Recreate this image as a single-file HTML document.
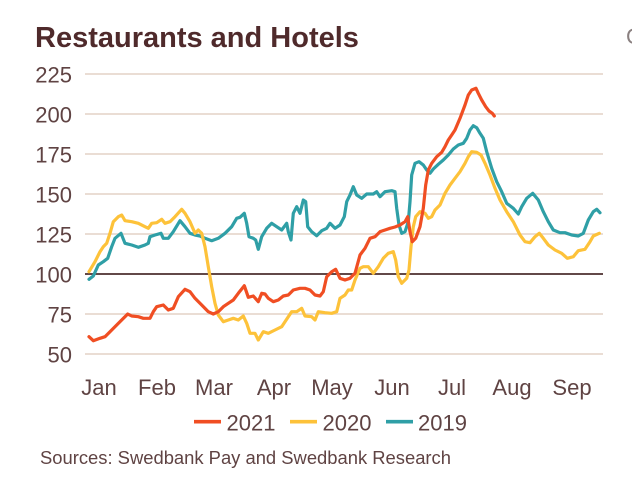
<!DOCTYPE html>
<html>
<head>
<meta charset="utf-8">
<style>
html,body{margin:0;padding:0;background:#ffffff;}
body{width:632px;height:482px;overflow:hidden;}
svg{display:block;}
text{font-family:"Liberation Sans",Arial,sans-serif;}
</style>
</head>
<body>
<svg width="632" height="482" viewBox="0 0 632 482" xmlns="http://www.w3.org/2000/svg">
  <rect x="0" y="0" width="632" height="482" fill="#ffffff"/>
  <!-- title -->
  <text x="35" y="47" font-size="29" font-weight="bold" fill="#4f2a2b">Restaurants and Hotels</text>
  <text x="626" y="44" font-size="22" fill="#8a8080">C</text>

  <!-- gridlines -->
  <g stroke="#e3d2c6" stroke-width="1.6">
    <line x1="85" y1="74" x2="603" y2="74"/>
    <line x1="85" y1="114" x2="603" y2="114"/>
    <line x1="85" y1="154" x2="603" y2="154"/>
    <line x1="85" y1="194" x2="603" y2="194"/>
    <line x1="85" y1="234" x2="603" y2="234"/>
    <line x1="85" y1="314" x2="603" y2="314"/>
    <line x1="85" y1="354" x2="603" y2="354"/>
  </g>
  <line x1="85" y1="274" x2="603" y2="274" stroke="#4b2e2e" stroke-width="1.8"/>

  <!-- y labels -->
  <g font-size="22" fill="#5f4343" text-anchor="end">
    <text x="72" y="82.5">225</text>
    <text x="72" y="122.5">200</text>
    <text x="72" y="162.5">175</text>
    <text x="72" y="202.5">150</text>
    <text x="72" y="242.5">125</text>
    <text x="72" y="282.5">100</text>
    <text x="72" y="322.5">75</text>
    <text x="72" y="362.5">50</text>
  </g>

  <!-- x labels -->
  <g font-size="22" fill="#5f4343" text-anchor="middle">
    <text x="99" y="395">Jan</text>
    <text x="157" y="395">Feb</text>
    <text x="214" y="395">Mar</text>
    <text x="274" y="395">Apr</text>
    <text x="332" y="395">May</text>
    <text x="392" y="395">Jun</text>
    <text x="452" y="395">Jul</text>
    <text x="512" y="395">Aug</text>
    <text x="572" y="395">Sep</text>
  </g>

  <g fill="none" stroke-width="3.2" stroke-linejoin="round" stroke-linecap="round">
    <!-- 2019 teal -->
    <polyline stroke="#2f9fa6" points="89,279.3 93.3,276 98.3,265 103.3,261.7 107.7,258.3 111.7,246.7 115,238.3 121,233.3 125,243.3 131.7,245 138.3,247.3 145,245 148.3,243.3 150,236.7 155,235 161,233.3 163.3,238.3 168.3,238.3 173.3,231.7 180,220.7 185,226.7 190,233.3 195,235 200,236 205,238.3 211.7,240.7 218.3,238.3 225,233.3 231.7,226.7 236.7,218.3 240,217.3 244.3,213.3 246.7,223.3 249,236.7 253.3,238.3 255.7,240 258.3,249.3 261.7,236.7 266.7,228.3 271.7,223.3 276.7,226.7 281.7,230 286.7,223.3 288.3,231.7 291,240 293.3,213.3 296.7,206.7 300,213.3 303.3,200 305.7,201.7 307.7,226.7 311.7,231.7 316.7,235.7 321.7,230.7 326.7,228.3 330,223.3 335,228.3 340,225 344.3,216.7 346.7,201.7 350,195 353.3,186.7 356.7,195 361.7,198.3 366.7,194 373.3,194 376.7,191.7 380,196.7 385,191.7 391.7,190.7 395,191.7 396.7,208.3 399,225 401.7,233.3 405,231.7 408.3,221.7 410,201.7 411.7,175 415,163.3 419,161.7 423.3,165 426.7,170 430,173.3 433.3,169 438.3,164.3 443.3,160 448.3,155 453.3,149 458.3,145 463.3,143.3 466.7,138.3 470,130 473.3,125.7 476.7,127.7 480,133.3 483.3,138.3 486.7,151.7 491.7,168.3 496.7,181.7 501.7,191.7 506.7,203.3 513.3,208.3 518.3,214 521.7,206.7 526.7,198.3 532.7,193.3 538.3,200 543.3,211.7 548.3,221.7 553.3,230 560,232.7 565,232.7 571.7,235 578.3,236 583.3,233.3 588.3,220 593.3,211.7 596.7,209.3 600,212.7"/>
    <!-- 2020 yellow -->
    <polyline stroke="#fdc23a" points="89,271.7 95,261.7 100,251.7 103.3,246.7 106.7,243.3 110,233.3 113.3,221.7 118.3,216.7 121.7,215 125,220.7 131.7,221.7 138.3,223.3 145,226.7 148.3,228.3 151.7,223.3 156.7,222.7 161.7,219.3 165,223.3 170,221.7 175,216.7 181.7,209.3 185,213.3 190,221.7 195,233.3 198.3,230 201.7,233.3 205,246.7 208.3,266.7 211.7,286.7 215,303.3 218.3,315 223.3,321.7 228.3,320 233.3,318.3 238.3,320 243.3,316 246.7,323.3 250,333.3 255,333.3 258.3,340 263.3,331.7 268.3,333.3 275,330 281.7,326.7 288.3,316.7 291.7,311.7 296.7,311.7 301.7,308.3 305,316 311.7,316.7 315,320 318.3,311.7 325,312.7 331.7,313.3 336.7,311.7 340,298.3 345,295 348.3,290 351.7,290 355,280 360,268.3 363.3,266.7 368.3,266.7 373.3,273.3 378.3,266.7 383.3,258.3 388.3,253.3 393.3,251.7 395.7,260 398.3,276.7 401.7,283.3 406.7,278.3 409,270 411,246.7 413.3,226.7 415.7,216.7 420,211.7 425,213.3 428.3,218.3 431.7,216.7 435,210 440,205 445,193.3 450,185 455,178.3 460,171.7 465,163.3 468.3,156.7 471.7,151.7 476.7,152.3 481,155 485,163.3 490,175 495,188.3 500,200 506.7,211.7 513.3,221.7 520,235 525,241.7 530,242.7 535,236.7 539.3,233.3 543.3,238.3 548.3,245 555,250 561.7,253.3 567.3,258.3 573.3,256.7 578.3,250.7 585,249.3 590,241.7 593.3,236 599.3,233.3"/>
    <!-- 2021 red -->
    <polyline stroke="#f04e23" points="89,336.7 93.3,340.7 100,338.3 105,336.7 110,331.7 116.7,325 121.7,320 127.7,314 131.7,316 138.3,316.7 143.3,318.3 150,318.3 153.3,311.7 156.7,306.7 163.3,305 168.3,310 173.3,308.3 178.3,296.7 185,289.3 190,291.7 195,298.3 201.7,305 208.3,311.7 213.3,314 218.3,311.7 223.3,306.7 228.3,303.3 233.3,300 238.3,293.3 244.3,285.7 248.3,297.3 253.3,296 258.3,301.7 261.7,293.3 265,294 268.3,298.3 273.3,301.7 278.3,300 283.3,296 288.3,295 293.3,290 300,288.3 305,288.3 310,290 315,295 320,296 323.3,291.7 326.7,276.7 331.7,271.7 335.7,269.3 340,278.3 345,280 350,278.3 355,273.3 360,255 365,248.3 370,238.3 375,236.7 380,231.7 385,230 390,228.3 395,227 400,225 405,221.7 407.7,216.7 410,231.7 412.3,241.7 415.7,238.3 420,226.7 423.3,208.3 425.7,185 428.3,170 431.7,163.3 436.7,156.7 441.7,152.3 445,146.7 448.3,140 451.7,135 455,130 460,118.3 465,105 468.3,95 471.7,90 476,88.3 478.3,93.3 481.7,100 485.7,106.7 489,111 492.3,113.3 494.3,116"/>
  </g>

  <!-- legend -->
  <g stroke-width="3.6">
    <line x1="194" y1="421.7" x2="221" y2="421.7" stroke="#f04e23"/>
    <line x1="290" y1="421.7" x2="317" y2="421.7" stroke="#fdc23a"/>
    <line x1="386" y1="421.7" x2="413" y2="421.7" stroke="#2f9fa6"/>
  </g>
  <g font-size="22" fill="#5f4343">
    <text x="226.5" y="430.5">2021</text>
    <text x="322.5" y="430.5">2020</text>
    <text x="418" y="430.5">2019</text>
  </g>

  <!-- source -->
  <text x="40" y="464" font-size="18.4" fill="#5f4343">Sources: Swedbank Pay and Swedbank Research</text>
</svg>
</body>
</html>
